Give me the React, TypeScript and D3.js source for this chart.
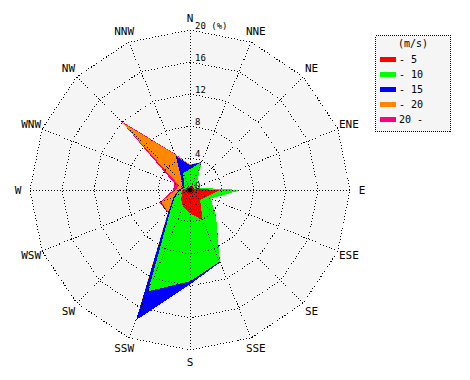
import React from "react";
import * as d3 from "d3";

const DIRECTIONS = ["N","NNE","NE","ENE","E","ESE","SE","SSE","S","SSW","SW","WSW","W","WNW","NW","NNW"];
const SPEED_KEYS = ["s5","s10","s15","s20","s20p"];
const SPEED_LABELS = ["- 5","- 10","- 15","- 20","20 -"];
const SPEED_COLORS = ["#ff0000","#00ff00","#0000ff","#ff8800","#ff0080"];
const RING_TICKS = [0, 4, 8, 12, 16, 20];
const LEGEND_TITLE = "(m/s)";
const UNIT = "(%)";

// frequency (%) per speed class, per direction (N clockwise)
const S5   = [0.3,0.5,0.6,0.4,3.8,2.2,1.8,4.1,2.9,2.3,1.6,1.0,1.0,0.5,0.4,0.3];
const S10  = [2.3,3.3,0.6,0.4,2.6,0.6,2.8,5.6,8.5,11.4,1.8,1.0,0.2,0.3,0.6,2.0];
const S15  = [0.5,0,0,0,0,0,0,0.1,0.4,3.9,0.4,0.2,0.2,0.2,0.4,2.3];
const S20  = [0.1,0,0,0,0,0,0,0,0,0,0.1,1.7,0.4,0.5,10.4,0.2];
const S20P = [0,0,0,0,0,0,0,0,0,0,0,0.3,0.3,0.6,0.4,0.1];

const W = 470, H = 380;
const CX = 190, CY = 190, R = 160;

export default function App() {
  const rows = DIRECTIONS.map((d, i) => ({
    dir: d, s5: S5[i], s10: S10[i], s15: S15[i], s20: S20[i], s20p: S20P[i],
  }));
  const stacked = d3.stack<any>().keys(SPEED_KEYS)(rows);
  const r = d3.scaleLinear().domain([0, 20]).range([0, R]);
  const ang = d3.scaleLinear().domain([0, DIRECTIONS.length]).range([0, 2 * Math.PI]);

  const area = d3.lineRadial<any>()
    .angle((_, i) => ang(i))
    .radius((d) => r(d[1]))
    .curve(d3.curveLinearClosed);

  const ring = (t: number) =>
    d3.lineRadial<string>()
      .angle((_, i) => ang(i))
      .radius(() => r(t))
      .curve(d3.curveLinearClosed)(DIRECTIONS) as string;

  const mono = "'DejaVu Sans Mono', monospace";
  const dotted = { stroke: "#000", strokeWidth: 1, strokeDasharray: "1,2", fill: "none" };

  return (
    <svg width={W} height={H} style={{ position: "absolute", left: 0, top: 0, background: "#fff" }}>
      <g transform={`translate(${CX},${CY})`}>
        <path d={ring(20)} fill="#f5f5f5" />
        {stacked.slice().reverse().map((s) => {
          const idx = SPEED_KEYS.indexOf(s.key);
          return (
            <path key={s.key} d={area(s as any) as string} fill={SPEED_COLORS[idx]}
              stroke="none" shapeRendering="crispEdges" />
          );
        })}
        {RING_TICKS.filter((t) => t > 0).map((t) => (
          <path key={t} d={ring(t)} {...dotted} shapeRendering="crispEdges" />
        ))}
        {DIRECTIONS.map((d, i) => {
          const a = ang(i);
          return (
            <line key={d} x1={0} y1={0} x2={r(20) * Math.sin(a)} y2={-r(20) * Math.cos(a)}
              {...dotted} shapeRendering="crispEdges" />
          );
        })}
        <circle r={2.5} fill="#000" />
        {RING_TICKS.map((t) => (
          <text key={t} x={5} y={-r(t) - 1} fontFamily={mono} fontSize={9} fill="#000">
            {t === 20 ? `${t} ${UNIT}` : t}
          </text>
        ))}
        {DIRECTIONS.map((d, i) => {
          const a = ang(i);
          const rr = 172;
          return (
            <text key={d} x={rr * Math.sin(a)} y={-rr * Math.cos(a)} textAnchor="middle"
              dominantBaseline="central" fontFamily={mono} fontSize={11} fill="#000">
              {d}
            </text>
          );
        })}
      </g>
      <g>
        <rect x={375.5} y={35.5} width={75} height={96} fill="#f5f5f5" stroke="#000"
          strokeDasharray="1,1" shapeRendering="crispEdges" />
        <text x={413} y={47} textAnchor="middle" fontFamily={mono} fontSize={10} fill="#000">
          {LEGEND_TITLE}
        </text>
        {SPEED_LABELS.map((l, i) => (
          <g key={l} transform={`translate(0,${59.5 + i * 15})`}>
            <rect x={380} y={-2.5} width={16} height={5} fill={SPEED_COLORS[i]} />
            <text x={399} y={0} dominantBaseline="central" fontFamily={mono} fontSize={10} fill="#000">
              {l}
            </text>
          </g>
        ))}
      </g>
    </svg>
  );
}
